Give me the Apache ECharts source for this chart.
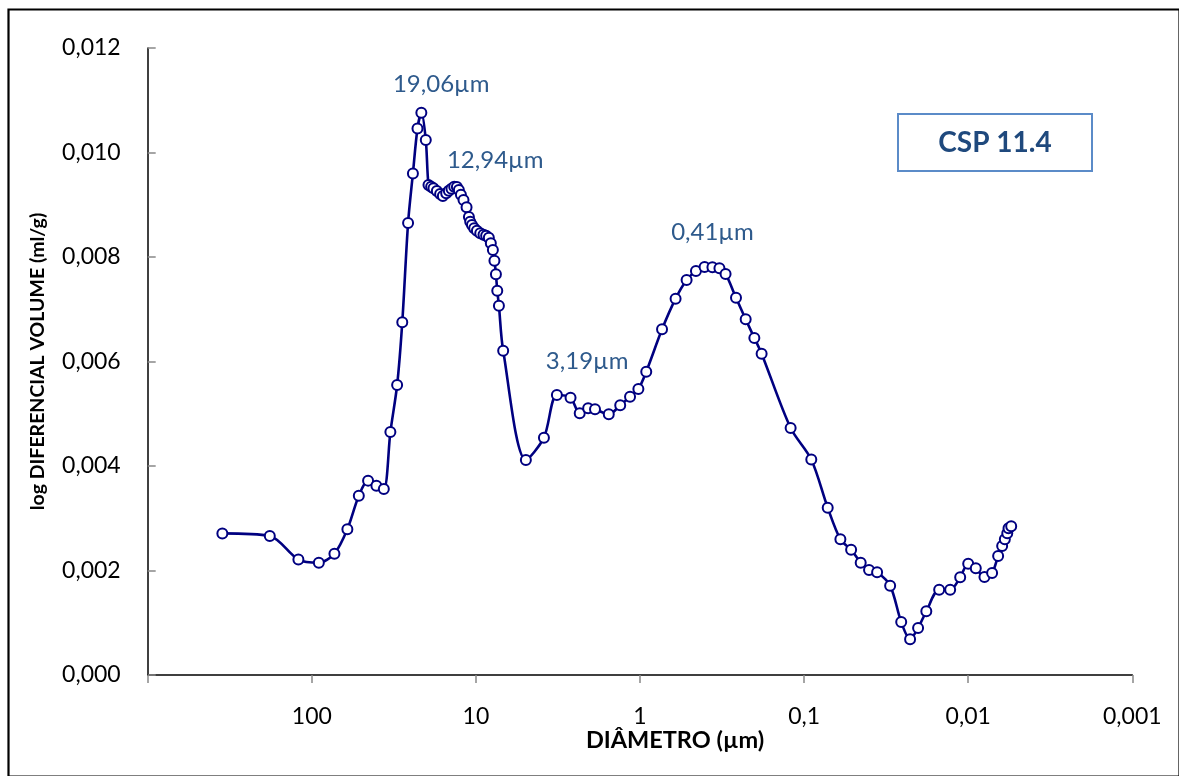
<!DOCTYPE html>
<html>
<head>
<meta charset="utf-8">
<script src="https://cdn.jsdelivr.net/npm/echarts@6/dist/echarts.min.js"></script>
<style>html,body{margin:0;padding:0;background:#fff;}#chart{width:1179px;height:776px;}</style>
</head>
<body>
<div id="chart"></div>
<script>
// Diameter (µm) and log differential volume (ml/g)
const diameters = [350.8, 180.3, 120.7, 90.6, 72.8, 60.7, 51.7, 45.4, 40.4, 36.4, 33.2, 30.2, 28.1, 25.9, 24.2, 22.7, 21.5, 20.2, 19.45,
  18.74, 18.14, 17.30, 16.52, 15.90, 15.17, 14.62, 14.09, 13.56, 13.06, 12.70, 12.34, 11.90, 11.40, 11.03, 10.83, 10.57, 10.24, 9.86, 9.41, 8.99, 8.66, 8.34, 8.11, 7.88, 7.71, 7.55, 7.41, 7.24,
  6.82, 4.96, 3.85, 3.21, 2.65, 2.33, 2.07, 1.88, 1.55, 1.32, 1.15, 1.023, 0.916, 0.734, 0.607, 0.520, 0.456, 0.404, 0.362, 0.328, 0.301, 0.260, 0.227, 0.201, 0.1815,
  0.1208, 0.0904, 0.0718, 0.0601, 0.0517, 0.0452, 0.0402, 0.0359, 0.0299, 0.0256, 0.0226, 0.0202, 0.0180, 0.01503, 0.01288, 0.01119, 0.0100, 0.00899, 0.00796, 0.00715, 0.00657, 0.00621, 0.00598, 0.00578, 0.00568, 0.00547];
const volumes = [0.00271, 0.00266, 0.00221, 0.00215, 0.00232, 0.00279, 0.00343, 0.00372, 0.00362, 0.00356, 0.00465, 0.00555, 0.00675, 0.00865, 0.00960, 0.01046, 0.01076, 0.01024, 0.00938,
  0.009346, 0.009315, 0.009263, 0.009206, 0.009168, 0.009219, 0.009269, 0.009308, 0.009346, 0.00934, 0.009282, 0.009193, 0.009091, 0.008951, 0.008766, 0.008676, 0.008613, 0.008549, 0.008504, 0.008453, 0.008427, 0.008408, 0.00837, 0.008262, 0.008134, 0.00793, 0.007669, 0.007355, 0.007068,
  0.006207, 0.004115, 0.004542, 0.005359, 0.005308, 0.005008, 0.005104, 0.005085, 0.004989, 0.005161, 0.005327, 0.005474, 0.005805, 0.006616, 0.007202, 0.00756, 0.007732, 0.007809, 0.007803, 0.007784, 0.007675, 0.007222, 0.006808, 0.00645, 0.00615,
  0.004727, 0.004125, 0.003202, 0.002597, 0.002398, 0.00215, 0.00201, 0.001965, 0.00171, 0.001014, 0.000683, 0.0009, 0.001219, 0.001633, 0.001633, 0.00187, 0.00213, 0.002042, 0.001876, 0.001952, 0.002278, 0.002469, 0.002597, 0.002712, 0.002808, 0.002846];
const peakLabels = ['19,06µm', '12,94µm', '3,19µm', '0,41µm'];
const peakLabelX = [16.28, 7.63, 2.10, 0.362];
const peakLabelY = [0.01131, 0.009857, 0.00601, 0.00848];
const seriesName = 'CSP 11.4';
const xTitle = 'DIÂMETRO (µm)';
const yTitle = 'log DIFERENCIAL VOLUME (ml/g)';

const FONT = 'Lato, "Open Sans", sans-serif';
const chart = echarts.init(document.getElementById('chart'), null, {renderer: 'canvas'});
const pts = diameters.map((d, i) => [d, volumes[i]]);

chart.setOption({
  animation: false,
  backgroundColor: '#fff',
  grid: {left: 147.7, right: 46.7, top: 48, bottom: 101, containLabel: false},
  xAxis: {
    type: 'log', logBase: 10, min: 0.001, max: 1000, inverse: true,
    axisLine: {show: true, onZero: false, lineStyle: {color: '#000', width: 1.5}},
    axisTick: {show: true, inside: false, length: 8, lineStyle: {color: '#888', width: 1.5}},
    splitLine: {show: false},
    minorTick: {show: false},
    axisLabel: {
      margin: 30, fontFamily: FONT, fontSize: 23, color: '#000',
      formatter: v => { const n = Number(Number(v).toPrecision(6)); if (n >= 1000) return ''; return String(n).replace('.', ','); }
    }
  },
  yAxis: {
    type: 'value', min: 0, max: 0.012, interval: 0.002,
    name: yTitle, nameLocation: 'middle', nameGap: 100, nameRotate: 90,
    nameTextStyle: {fontFamily: FONT, fontWeight: 'bold', fontSize: 19.5, color: '#000'},
    axisLine: {show: true, lineStyle: {color: '#000', width: 1.5}},
    axisTick: {show: true, inside: true, length: 8, lineStyle: {color: '#888', width: 1.5}},
    splitLine: {show: false},
    axisLabel: {
      margin: 27, fontFamily: FONT, fontSize: 23, color: '#000',
      formatter: v => Number(v).toFixed(3).replace('.', ',')
    }
  },
  series: [{
    name: seriesName,
    type: 'line',
    data: pts,
    smooth: 0.3,
    symbol: 'circle',
    symbolSize: 10,
    showAllSymbol: true,
    lineStyle: {color: '#000080', width: 2.6},
    itemStyle: {color: '#fff', borderColor: '#000080', borderWidth: 2},
    markPoint: {
      symbol: 'circle', symbolSize: 0, silent: true,
      label: {show: true, position: 'inside', formatter: p => p.name, fontFamily: FONT, fontSize: 24, color: '#2E5A8C'},
      data: peakLabels.map((t, i) => ({name: t, coord: [peakLabelX[i], peakLabelY[i]]}))
    },
    z: 3
  }],
  graphic: [
    {type: 'rect', left: 6, top: 7, shape: {x: 0, y: 0, width: 1171, height: 767}, style: {fill: null, stroke: '#000', lineWidth: 2.2}, silent: true, z: 10},
    {type: 'text', x: 675, y: 740, style: {text: xTitle, fontFamily: FONT, fontWeight: 'bold', fontSize: 23.5, fill: '#000', align: 'center', verticalAlign: 'middle'}},
    {type: 'group', left: 897, top: 113, children: [
      {type: 'rect', shape: {x: 0, y: 0, width: 194, height: 57}, style: {fill: '#fff', stroke: '#5B8BC8', lineWidth: 2}},
      {type: 'text', x: 97, y: 29, style: {text: seriesName, fontFamily: FONT, fontWeight: 'bold', fontSize: 28, fill: '#1F497D', align: 'center', verticalAlign: 'middle'}}
    ]}
  ]
});
</script>
</body>
</html>
